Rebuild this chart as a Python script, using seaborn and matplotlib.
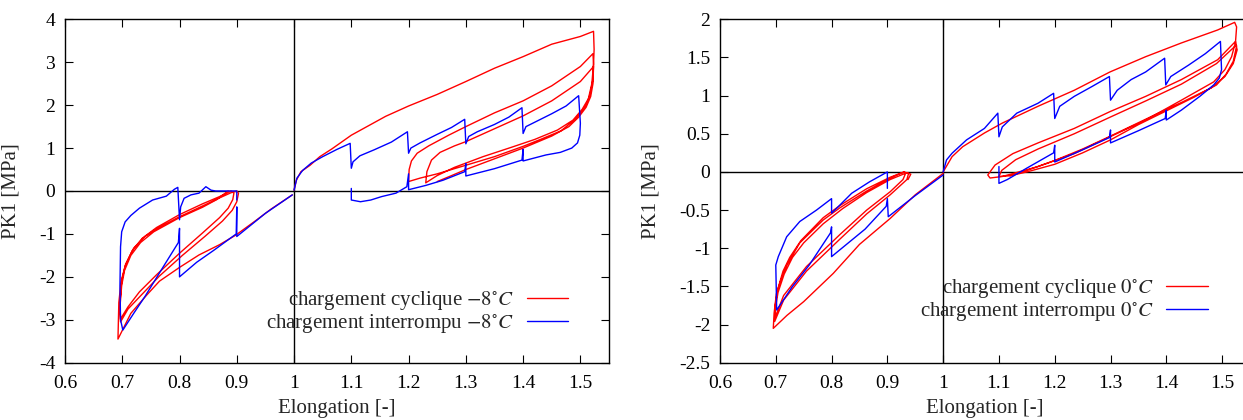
import matplotlib
matplotlib.use("Agg")
import matplotlib.pyplot as plt
import pandas as pd
import seaborn as sns
from matplotlib.ticker import FormatStrFormatter

# ---- -8 C : cyclic loading (red) ----
m8_cyc_tension = [
    (1.0, 0.02), (1.004, 0.25), (1.012, 0.45), (1.028, 0.6), (1.045, 0.8), (1.066, 0.98),
    (1.1, 1.3), (1.13, 1.52), (1.16, 1.74), (1.2, 1.98), (1.25, 2.25), (1.3, 2.55),
    (1.35, 2.86), (1.4, 3.13), (1.45, 3.42), (1.5, 3.6), (1.523, 3.72),
    (1.524, 3.3), (1.522, 2.6), (1.517, 2.25), (1.509, 1.97), (1.49, 1.66), (1.466, 1.4),
    (1.43, 1.2), (1.4, 1.04), (1.35, 0.8), (1.3, 0.6), (1.25, 0.4), (1.22, 0.3), (1.2, 0.22),
    (1.201, 0.5), (1.205, 0.7), (1.215, 0.88), (1.235, 1.05), (1.27, 1.3), (1.3, 1.5),
    (1.35, 1.82), (1.4, 2.1), (1.45, 2.45), (1.5, 2.9), (1.522, 3.2),
    (1.523, 2.95), (1.52, 2.5), (1.514, 2.15), (1.503, 1.9), (1.487, 1.65), (1.46, 1.42),
    (1.42, 1.2), (1.38, 1.02), (1.33, 0.8), (1.28, 0.55), (1.25, 0.36), (1.23, 0.19),
    (1.232, 0.45), (1.24, 0.72), (1.255, 0.9), (1.28, 1.05), (1.3, 1.15), (1.35, 1.45),
    (1.4, 1.75), (1.45, 2.1), (1.5, 2.55), (1.523, 2.9),
    (1.522, 2.5), (1.518, 2.2), (1.51, 1.95), (1.497, 1.72), (1.48, 1.5), (1.45, 1.28),
    (1.4, 1.0), (1.35, 0.75), (1.3, 0.5), (1.27, 0.33), (1.25, 0.22),
]
m8_cyc_compression = [
    (0.997, -0.09), (0.96, -0.42), (0.93, -0.72), (0.898, -1.03), (0.87, -1.25), (0.834, -1.49),
    (0.8, -1.78), (0.765, -2.1), (0.743, -2.42), (0.715, -2.85), (0.6925, -3.45),
    (0.694, -2.6), (0.698, -2.1), (0.706, -1.7), (0.72, -1.33), (0.74, -1.05), (0.76, -0.85),
    (0.8, -0.55), (0.84, -0.3), (0.87, -0.13), (0.885, -0.03), (0.89, 0.0),
    (0.895, -0.05), (0.893, -0.2), (0.885, -0.4), (0.87, -0.62), (0.84, -0.98), (0.8, -1.45),
    (0.76, -1.95), (0.73, -2.35), (0.71, -2.7), (0.697, -2.98),
    (0.696, -2.6), (0.699, -2.1), (0.705, -1.75), (0.717, -1.4), (0.735, -1.1), (0.76, -0.88),
    (0.8, -0.6), (0.84, -0.35), (0.87, -0.16), (0.89, -0.04), (0.9, 0.0),
    (0.903, -0.05), (0.9, -0.25), (0.892, -0.45), (0.875, -0.7), (0.845, -1.05), (0.805, -1.5),
    (0.765, -1.98), (0.735, -2.4), (0.71, -2.75), (0.697, -3.05),
    (0.696, -2.7), (0.699, -2.2), (0.704, -1.85), (0.715, -1.5), (0.732, -1.2), (0.755, -0.95),
    (0.8, -0.62), (0.84, -0.38), (0.865, -0.2), (0.88, -0.05), (0.885, 0.0),
]

# ---- -8 C : interrupted loading (blue) ----
m8_int_tension = [
    (1.0, 0.02), (1.005, 0.3), (1.015, 0.48), (1.03, 0.65), (1.05, 0.8), (1.075, 0.97),
    (1.098, 1.11), (1.1, 0.53), (1.103, 0.68), (1.115, 0.82), (1.14, 0.96), (1.17, 1.14),
    (1.198, 1.38), (1.2, 0.88), (1.204, 1.0), (1.22, 1.12), (1.25, 1.32), (1.275, 1.48),
    (1.298, 1.67), (1.3, 1.1), (1.305, 1.27), (1.32, 1.38), (1.35, 1.55), (1.375, 1.72),
    (1.398, 1.94), (1.4, 1.34), (1.405, 1.5), (1.42, 1.6), (1.45, 1.8), (1.475, 1.98),
    (1.497, 2.22), (1.5, 1.58),
    (1.499, 1.3), (1.495, 1.12), (1.485, 1.0), (1.465, 0.9), (1.44, 0.84), (1.4, 0.7),
    (1.4, 0.97), (1.398, 0.72), (1.35, 0.52), (1.3, 0.35), (1.3, 0.64), (1.298, 0.45),
    (1.26, 0.25), (1.23, 0.13), (1.2, 0.03), (1.2, 0.4), (1.197, 0.1), (1.178, -0.05),
    (1.153, -0.13), (1.134, -0.21), (1.116, -0.25), (1.1, -0.21), (1.1, 0.06),
]
m8_int_compression = [
    (0.997, -0.09), (0.95, -0.52), (0.9, -1.06), (0.9, -0.37), (0.899, -1.0), (0.86, -1.38),
    (0.83, -1.66), (0.8, -2.0), (0.8, -0.87), (0.798, -1.2), (0.77, -1.8), (0.74, -2.45),
    (0.72, -2.85), (0.701, -3.24), (0.697, -3.0), (0.696, -2.2), (0.697, -1.3), (0.699, -0.95),
    (0.705, -0.72), (0.715, -0.57), (0.73, -0.4), (0.753, -0.21), (0.777, -0.12), (0.791, 0.04),
    (0.797, 0.085), (0.8, -0.67), (0.802, -0.37), (0.808, -0.17), (0.82, -0.09), (0.834, -0.05),
    (0.846, 0.1), (0.855, 0.02), (0.863, 0.0), (0.9, 0.0), (0.9, -0.21),
]

# ---- 0 C : cyclic loading (red) ----
z0_cyc_tension = [
    (1.0, 0.0), (1.016, 0.2), (1.035, 0.33), (1.074, 0.51), (1.106, 0.64), (1.17, 0.86),
    (1.235, 1.07), (1.299, 1.31), (1.363, 1.51), (1.427, 1.69), (1.492, 1.86), (1.5225, 1.96),
    (1.526, 1.9), (1.524, 1.7), (1.517, 1.51), (1.505, 1.34), (1.485, 1.18), (1.427, 0.94),
    (1.363, 0.68), (1.299, 0.46), (1.235, 0.24), (1.17, 0.07), (1.106, -0.06), (1.084, -0.08),
    (1.08, -0.04),
    (1.093, 0.09), (1.125, 0.24), (1.17, 0.38), (1.235, 0.57), (1.299, 0.79), (1.363, 0.99),
    (1.427, 1.21), (1.492, 1.47), (1.524, 1.71),
    (1.526, 1.65), (1.52, 1.45), (1.507, 1.28), (1.49, 1.14), (1.45, 0.98), (1.4, 0.8),
    (1.35, 0.62), (1.3, 0.42), (1.25, 0.25), (1.2, 0.1), (1.15, 0.0), (1.12, -0.05), (1.1, -0.06),
    (1.105, 0.02), (1.13, 0.16), (1.17, 0.3), (1.235, 0.5), (1.3, 0.72), (1.363, 0.93),
    (1.427, 1.15), (1.49, 1.42), (1.525, 1.66),
    (1.527, 1.6), (1.52, 1.42), (1.505, 1.25), (1.48, 1.1), (1.43, 0.92), (1.38, 0.75),
    (1.3, 0.47), (1.25, 0.3), (1.2, 0.15), (1.15, 0.02), (1.12, -0.05),
]
z0_cyc_compression = [
    (1.0, -0.02), (0.95, -0.3), (0.905, -0.61), (0.85, -0.95), (0.803, -1.33), (0.75, -1.7),
    (0.72, -1.88), (0.6955, -2.05),
    (0.697, -1.85), (0.701, -1.6), (0.71, -1.4), (0.72, -1.22), (0.743, -0.93), (0.785, -0.63),
    (0.815, -0.47), (0.863, -0.25), (0.9, -0.1), (0.92, -0.03), (0.93, 0.0), (0.932, -0.03),
    (0.928, -0.1), (0.905, -0.26), (0.863, -0.5), (0.815, -0.82), (0.755, -1.24), (0.714, -1.62),
    (0.698, -1.92),
    (0.699, -1.75), (0.703, -1.55), (0.713, -1.3), (0.725, -1.12), (0.745, -0.9), (0.785, -0.6),
    (0.815, -0.44), (0.863, -0.22), (0.905, -0.07), (0.93, 0.0), (0.938, -0.02),
    (0.935, -0.1), (0.905, -0.3), (0.863, -0.55), (0.815, -0.88), (0.755, -1.3), (0.714, -1.68),
    (0.698, -1.96),
    (0.699, -1.8), (0.704, -1.58), (0.715, -1.34), (0.73, -1.12), (0.75, -0.93), (0.785, -0.68),
    (0.82, -0.48), (0.863, -0.27), (0.905, -0.1), (0.935, -0.01), (0.942, -0.03), (0.937, -0.1),
]

# ---- 0 C : interrupted loading (blue) ----
z0_int_tension = [
    (1.0, 0.0), (1.006, 0.157), (1.016, 0.245), (1.042, 0.42), (1.074, 0.57), (1.098, 0.77),
    (1.1, 0.46), (1.106, 0.59), (1.132, 0.77), (1.17, 0.9), (1.198, 1.03), (1.2, 0.7),
    (1.209, 0.86), (1.235, 0.99), (1.267, 1.12), (1.298, 1.25), (1.3, 0.94), (1.312, 1.07),
    (1.337, 1.21), (1.363, 1.31), (1.397, 1.49), (1.399, 1.14), (1.408, 1.25), (1.44, 1.4),
    (1.47, 1.55), (1.497, 1.71), (1.499, 1.34), (1.495, 1.23), (1.485, 1.14), (1.46, 0.99),
    (1.427, 0.81), (1.4, 0.68), (1.4, 0.81), (1.398, 0.7), (1.35, 0.54), (1.3, 0.38),
    (1.3, 0.55), (1.298, 0.45), (1.25, 0.29), (1.2, 0.13), (1.2, 0.35), (1.198, 0.25),
    (1.15, 0.05), (1.115, -0.1), (1.1, -0.15), (1.1, 0.07),
]
z0_int_compression = [
    (1.0, -0.04), (0.95, -0.31), (0.9016, -0.587), (0.9, -0.35), (0.898, -0.45), (0.86, -0.75),
    (0.83, -0.93), (0.8, -1.11), (0.8, -0.72), (0.798, -0.8), (0.76, -1.22), (0.73, -1.5),
    (0.7016, -1.81), (0.7, -1.22), (0.7045, -1.11), (0.7195, -0.85), (0.743, -0.65),
    (0.773, -0.5), (0.8, -0.35), (0.8, -0.54), (0.81, -0.47), (0.836, -0.28), (0.868, -0.13),
    (0.9, 0.0), (0.9, -0.215),
]

x_ticks = [0.6, 0.7, 0.8, 0.9, 1.0, 1.1, 1.2, 1.3, 1.4, 1.5]
m8_yticks = [-4, -3, -2, -1, 0, 1, 2, 3, 4]
z0_yticks = [-2.5, -2, -1.5, -1, -0.5, 0, 0.5, 1, 1.5, 2]

RED = "#ff0000"
BLUE = "#0000ff"
FS = 15

sns.set_theme(style="ticks")
plt.rcParams["font.family"] = ["Liberation Serif", "DejaVu Serif"]
plt.rcParams["mathtext.fontset"] = "stix"
plt.rcParams["axes.unicode_minus"] = False


def to_frame(branches):
    rows = []
    for k, pts in enumerate(branches):
        for x, y in pts:
            rows.append((k, x, y))
    return pd.DataFrame(rows, columns=["branch", "elong", "pk1"])


def draw_panel(ax, cyc, intr, temp, ylim, yticks, leg_anchor, ylab_x, right_ticks=True):
    ax.axhline(0, color="black", lw=1.0, zorder=1)
    ax.axvline(1.0, color="black", lw=1.0, zorder=1)
    sns.lineplot(data=to_frame(cyc), x="elong", y="pk1", units="branch", estimator=None,
                 sort=False, color=RED, lw=1.0, ax=ax, zorder=3)
    sns.lineplot(data=to_frame(intr), x="elong", y="pk1", units="branch", estimator=None,
                 sort=False, color=BLUE, lw=1.0, ax=ax, zorder=4)
    ax.set_xlim(0.6, 1.55)
    ax.set_ylim(*ylim)
    ax.set_xticks(x_ticks)
    ax.set_yticks(yticks)
    ax.xaxis.set_major_formatter(FormatStrFormatter("%g"))
    ax.yaxis.set_major_formatter(FormatStrFormatter("%g"))
    ax.tick_params(direction="in", length=6, width=0.8, top=True, right=right_ticks,
                   labelsize=14, colors="black")
    ax.tick_params(axis="x", pad=9)
    ax.tick_params(axis="y", pad=7)
    for sp in ax.spines.values():
        sp.set_linewidth(1.0)
        sp.set_color("black")
    ax.set_xlabel("Elongation [-]", fontsize=FS)
    ax.set_ylabel("PK1 [MPa]", fontsize=FS)
    ax.xaxis.set_label_coords(0.5, -0.105)
    ax.yaxis.set_label_coords(ylab_x, 0.5)

    handles = [plt.Line2D([], [], color=RED, lw=1.0), plt.Line2D([], [], color=BLUE, lw=1.0)]
    labels = [r"chargement cyclique $%s^{\circ}C$" % temp,
              r"chargement interrompu $%s^{\circ}C$" % temp]
    ax.legend(handles, labels, loc="center right", bbox_to_anchor=leg_anchor, frameon=False,
              markerfirst=False, fontsize=FS, handlelength=2.0, handletextpad=0.6,
              labelspacing=0.0, borderpad=0, borderaxespad=0)


fig = plt.figure(figsize=(12.43, 4.2), dpi=100)
ax1 = fig.add_axes([0.05229, 0.13643, 0.43765, 0.81762])
ax2 = fig.add_axes([0.57924, 0.13643, 0.42639, 0.81762])

draw_panel(ax1, [m8_cyc_tension, m8_cyc_compression], [m8_int_tension, m8_int_compression],
           "-8", (-4, 4), m8_yticks, (0.925, 0.148), -0.081)
draw_panel(ax2, [z0_cyc_tension, z0_cyc_compression], [z0_int_tension, z0_int_compression],
           "0", (-2.5, 2), z0_yticks, (0.92, 0.183), -0.112, right_ticks=False)

fig.savefig("out.png", dpi=100)
